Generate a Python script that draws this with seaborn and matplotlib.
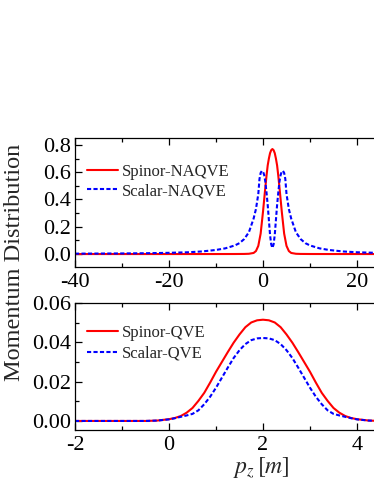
import numpy as np
import pandas as pd
import matplotlib
matplotlib.use("Agg")
import matplotlib.pyplot as plt
import seaborn as sns

# panel (a): NAQVE, p_z in units of m
spinor_naqve_x = [-40, -20, -10, -6, -4, -3, -2, -1.5, -1, -0.5, 0, 0.25, 0.5, 0.75, 1.0, 1.25, 1.5, 1.75,
                  2.0, 2.25, 2.5, 2.75, 3.0, 3.25, 3.5, 3.75, 4.0, 4.5, 5.0, 5.5, 6.0, 7, 8, 10, 14, 24, 40]
spinor_naqve_y = [0, 0, 0.0001, 0.0003, 0.0008, 0.002, 0.008, 0.022, 0.06, 0.15, 0.31, 0.40, 0.49, 0.575, 0.65, 0.70, 0.74, 0.762,
                  0.77, 0.762, 0.74, 0.70, 0.65, 0.575, 0.49, 0.40, 0.31, 0.15, 0.06, 0.022, 0.008, 0.002, 0.0008, 0.0003, 0.0001, 0, 0]

scalar_naqve_x = [-40, -36, -30, -25, -20, -16, -13, -10, -8, -6, -5, -4, -3, -2, -1.5, -1,
                  -0.75, -0.5, -0.25, 0, 0.25, 0.5, 0.75, 1.0, 1.25, 1.5, 1.75, 2.0,
                  2.25, 2.5, 2.75, 3.0, 3.25, 3.5, 3.75, 4.0, 4.25, 4.5, 4.75, 5, 5.5,
                  6, 7, 8, 9, 10, 12, 14, 17, 20, 24, 29, 34, 40]
scalar_naqve_y = [0.003, 0.0035, 0.0045, 0.006, 0.009, 0.013, 0.019, 0.03, 0.042, 0.063, 0.08, 0.11, 0.16, 0.26, 0.33, 0.44,
                  0.55, 0.595, 0.61, 0.605, 0.58, 0.53, 0.45, 0.36, 0.25, 0.14, 0.07, 0.045,
                  0.07, 0.14, 0.25, 0.36, 0.45, 0.53, 0.58, 0.605, 0.61, 0.595, 0.55, 0.44, 0.33,
                  0.26, 0.16, 0.11, 0.08, 0.063, 0.042, 0.03, 0.019, 0.013, 0.009, 0.006, 0.0045, 0.0035]

# panel (b): QVE
qve_x = [-2, -1, -0.5, -0.25, 0, 0.125, 0.25, 0.375, 0.5, 0.625, 0.75, 0.875, 1.0, 1.125, 1.25, 1.375,
         1.5, 1.625, 1.75, 1.875, 2.0, 2.125, 2.25, 2.375, 2.5, 2.625, 2.75, 2.875, 3.0, 3.125,
         3.25, 3.375, 3.5, 3.625, 3.75, 3.875, 4.0, 4.25, 4.5, 5, 6]
spinor_qve_y = [0, 0, 0, 0.0002, 0.0009, 0.0015, 0.0025, 0.0042, 0.0066, 0.0102, 0.0143, 0.0195, 0.0250, 0.0300,
                0.0350, 0.0398, 0.0440, 0.0477, 0.0501, 0.0512, 0.0515, 0.0512, 0.0501, 0.0477, 0.0440, 0.0398,
                0.0350, 0.0300, 0.0250, 0.0195, 0.0143, 0.0102, 0.0066, 0.0042, 0.0025, 0.0015, 0.0009,
                0.0002, 0, 0, 0]
scalar_qve_y = [0, 0, 0, 0.0002, 0.0008, 0.0014, 0.0021, 0.0028, 0.0036, 0.0054, 0.0085, 0.0123, 0.0169, 0.0220,
                0.0271, 0.0320, 0.0360, 0.0391, 0.0411, 0.0420, 0.0422, 0.0420, 0.0411, 0.0391, 0.0360, 0.0320,
                0.0271, 0.0220, 0.0169, 0.0123, 0.0085, 0.0054, 0.0036, 0.0028, 0.0021, 0.0014, 0.0008,
                0.0002, 0, 0, 0]

sns.set_theme(style="ticks")
plt.rcParams['font.family'] = ['Liberation Serif', 'DejaVu Serif']
plt.rcParams['mathtext.fontset'] = 'stix'
plt.rcParams['axes.linewidth'] = 0.9
plt.rcParams['xtick.direction'] = 'in'
plt.rcParams['ytick.direction'] = 'in'

W, H = 374, 484
fig = plt.figure(figsize=(W / 100, H / 100), dpi=100)
ax1 = fig.add_axes([75 / W, 1 - 267 / H, 376 / W, 129 / H])
ax2 = fig.add_axes([75 / W, 1 - 430 / H, 376 / W, 127 / H])

red = '#ff0000'
blue = '#0000ff'

sns.lineplot(x=spinor_naqve_x, y=spinor_naqve_y, ax=ax1, color=red, lw=1.5, label='Spinor-NAQVE')
sns.lineplot(x=scalar_naqve_x, y=scalar_naqve_y, ax=ax1, color=blue, lw=1.5,
             linestyle=(0, (2, 1.1)), label='Scalar-NAQVE')
sns.lineplot(x=qve_x, y=spinor_qve_y, ax=ax2, color=red, lw=1.5, label='Spinor-QVE')
sns.lineplot(x=qve_x, y=scalar_qve_y, ax=ax2, color=blue, lw=1.5,
             linestyle=(0, (2, 1.1)), label='Scalar-QVE')

ax1.set_xlim(-40, 40)
ax1.set_ylim(-0.095, 0.851)
ax1.set_xticks([-40, -20, 0, 20])
ax1.set_xticks([-30, -10, 10, 30], minor=True)
ax1.set_xticklabels(['-40', '-20', '0', '20'])
ax1.set_yticks([0.0, 0.2, 0.4, 0.6, 0.8])
ax1.set_yticks([0.1, 0.3, 0.5, 0.7], minor=True)
ax1.set_yticklabels(['0.0', '0.2', '0.4', '0.6', '0.8'])

ax2.set_xlim(-2, 6)
ax2.set_ylim(-0.0046, 0.06)
ax2.set_xticks([-2, 0, 2, 4])
ax2.set_xticks([-1, 1, 3, 5], minor=True)
ax2.set_xticklabels(['-2', '0', '2', '4'])
ax2.set_yticks([0.0, 0.02, 0.04, 0.06])
ax2.set_yticks([0.01, 0.03, 0.05], minor=True)
ax2.set_yticklabels(['0.00', '0.02', '0.04', '0.06'])

for ax in (ax1, ax2):
    ax.set_xlabel('')
    ax.set_ylabel('')
    for s in ax.spines.values():
        s.set_visible(True)
        s.set_color('black')
    ax.tick_params(which='both', top=True, right=True, colors='black', labelsize=16, width=0.9)
    ax.tick_params(which='major', length=5)
    ax.tick_params(which='minor', length=3)
    ax.tick_params(axis='x', pad=4)
    ax.tick_params(axis='y', pad=3)

ax1.legend(loc='upper left', bbox_to_anchor=(12 / 376, 1 - 26 / 129), frameon=False, fontsize=12,
           handlelength=1.85, handletextpad=0.25, labelspacing=0.2, borderpad=0, borderaxespad=0)
ax2.legend(loc='upper left', bbox_to_anchor=(12 / 376, 1 - 22 / 127), frameon=False, fontsize=12,
           handlelength=1.85, handletextpad=0.25, labelspacing=0.3, borderpad=0, borderaxespad=0)

fig.text(261 / W, 1 - 468 / H, '$p_z\\,[m]$', fontsize=17, ha='center', va='center')
fig.text(15 / W, 1 - 262 / H, 'Momentum Distribution', rotation=90, fontsize=17.5,
         ha='center', va='center')

fig.savefig('out.png', dpi=100)
